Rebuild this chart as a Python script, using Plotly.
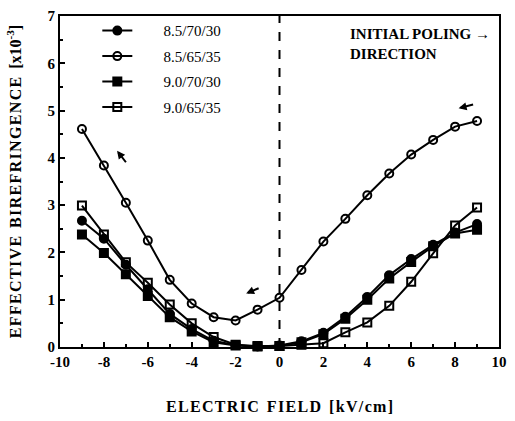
import plotly.graph_objects as go

field = [-9, -8, -7, -6, -5, -4, -3, -2, -1, 0, 1, 2, 3, 4, 5, 6, 7, 8, 9]

s_85_70_30 = [2.67, 2.29, 1.74, 1.22, 0.70, 0.38, 0.13, 0.04, 0.01, 0.03, 0.12, 0.30, 0.64, 1.06, 1.52, 1.86, 2.16, 2.42, 2.60]
s_85_65_35 = [4.61, 3.84, 3.05, 2.25, 1.42, 0.92, 0.63, 0.56, 0.79, 1.04, 1.63, 2.23, 2.71, 3.21, 3.67, 4.07, 4.38, 4.66, 4.78]
s_90_70_30 = [2.38, 1.99, 1.54, 1.08, 0.63, 0.33, 0.10, 0.03, 0.01, 0.02, 0.10, 0.27, 0.60, 1.00, 1.45, 1.80, 2.13, 2.40, 2.48]
s_90_65_35 = [2.99, 2.38, 1.79, 1.36, 0.90, 0.50, 0.21, 0.05, 0.02, 0.02, 0.05, 0.08, 0.31, 0.52, 0.87, 1.38, 1.98, 2.57, 2.95]

names = ["8.5/70/30", "8.5/65/35", "9.0/70/30", "9.0/65/35"]
series = [s_85_70_30, s_85_65_35, s_90_70_30, s_90_65_35]
symbols = ["circle", "circle-open", "square", "square-open"]

x_ticks = [-10, -8, -6, -4, -2, 0, 2, 4, 6, 8, 10]
y_ticks = [0, 1, 2, 3, 4, 5, 6, 7]

FONT = "Liberation Serif"
HS = "\u200a"
NB = "\u00a0"


def spaced(s):
    # widen the lettering like the scanned original
    out = []
    for word in s.split(" "):
        out.append(HS.join(word))
    return (NB + NB).join(out)


fig = go.Figure()
for name, vals, sym in zip(names, series, symbols):
    fig.add_trace(go.Scatter(
        x=field, y=vals, name=NB * 7 + name, legendgroup=name,
        mode="lines+markers",
        line=dict(color="black", width=2),
        marker=dict(symbol=sym, size=8, color="black",
                    line=dict(color="black", width=2)),
        cliponaxis=False,
    ))

fig.add_shape(type="line", x0=0, x1=0, y0=0, y1=7, xref="x", yref="y",
              line=dict(color="black", width=2, dash="dash"))

fig.add_annotation(x=0.985, y=0.975, xref="paper", yref="paper",
                   xanchor="right", yanchor="top", align="left",
                   text="<b>INITIAL POLING →<br>DIRECTION</b>", showarrow=False,
                   font=dict(family=FONT, size=15, color="black"))

arrow = dict(showarrow=True, arrowhead=2, arrowsize=0.8, arrowwidth=2,
             arrowcolor="black", text="", xref="x", yref="y", axref="pixel", ayref="pixel")
fig.add_annotation(x=-7.4, y=4.15, ax=10, ay=13, **arrow)
fig.add_annotation(x=-1.52, y=1.13, ax=14, ay=-6, **arrow)
fig.add_annotation(x=8.16, y=5.05, ax=16, ay=-4, **arrow)

fig.update_layout(
    width=515, height=421,
    margin=dict(l=60, r=8, t=12, b=74),
    paper_bgcolor="white", plot_bgcolor="white",
    font=dict(family=FONT, color="black"),
    showlegend=True,
    legend=dict(x=0.085, y=1.005, xanchor="left", yanchor="top",
                bgcolor="rgba(0,0,0,0)", tracegroupgap=3,
                font=dict(family=FONT, size=15, color="black")),
    xaxis=dict(range=[-10, 10], tickvals=x_ticks, ticktext=["<b>%d</b>" % v for v in x_ticks],
               showgrid=False, zeroline=False, showline=True, mirror=True,
               linecolor="black", linewidth=2, ticks="inside", ticklen=5,
               tickwidth=2, tickcolor="black",
               minor=dict(dtick=1, ticks="inside", ticklen=3, tickwidth=2, tickcolor="black"),
               tickfont=dict(family=FONT, size=15, color="black"),
               title=dict(text="<b>" + spaced("ELECTRIC FIELD [kV/cm]") + "</b>", standoff=32,
                          font=dict(family=FONT, size=16, color="black"))),
    yaxis=dict(range=[0, 7], tickvals=y_ticks, ticktext=["<b>%d</b>" % v for v in y_ticks],
               showgrid=False, zeroline=False, showline=True, mirror=True,
               linecolor="black", linewidth=2, ticks="inside", ticklen=5,
               tickwidth=2, tickcolor="black",
               minor=dict(dtick=0.5, ticks="inside", ticklen=3, tickwidth=2, tickcolor="black"),
               tickfont=dict(family=FONT, size=15, color="black"),
               title=dict(text="<b>" + spaced("EFFECTIVE BIREFRINGENCE") + NB + NB
                          + "[x10<sup>-3</sup>]</b>", standoff=22,
                          font=dict(family=FONT, size=16, color="black"))),
)

fig.write_html("out.html")
